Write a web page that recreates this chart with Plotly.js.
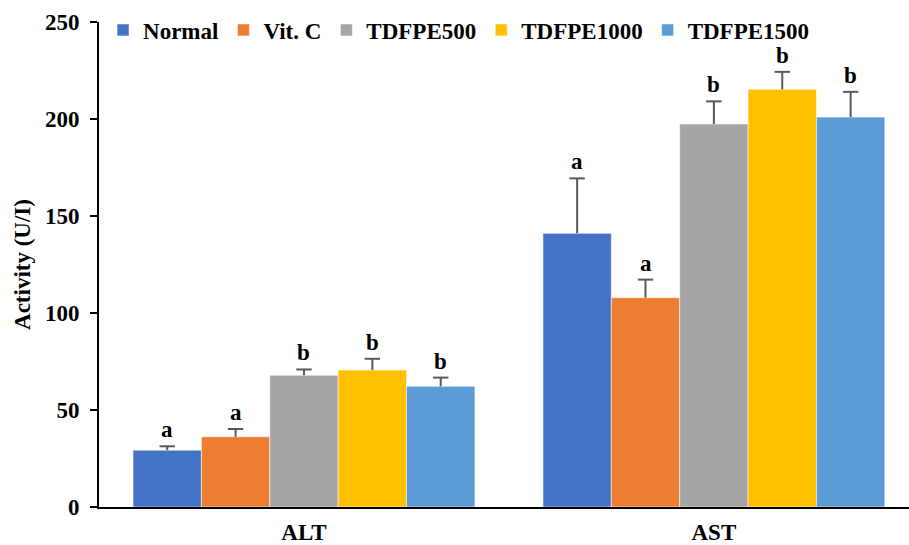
<!DOCTYPE html>
<html>
<head>
<meta charset="utf-8">
<script src="https://cdn.plot.ly/plotly-3.0.1.min.js"></script>
<style>html,body{margin:0;padding:0;background:#fff;}#chart{width:909px;height:545px;}</style>
</head>
<body>
<div id="chart"></div>
<script>
// Data
const categories = ["ALT", "AST"];
const seriesNames = ["Normal", "Vit. C", "TDFPE500", "TDFPE1000", "TDFPE1500"];
const normalVals = [29.3, 141.1];
const vitcVals = [36.2, 107.9];
const tdfpe500Vals = [67.9, 197.4];
const tdfpe1000Vals = [70.6, 215.3];
const tdfpe1500Vals = [62.2, 201.0];
const normalErr = [2.0, 28.3];
const vitcErr = [4.0, 9.3];
const tdfpe500Err = [3.0, 11.7];
const tdfpe1000Err = [5.8, 9.0];
const tdfpe1500Err = [4.5, 13.0];
const normalSig = ["a", "a"];
const vitcSig = ["a", "a"];
const tdfpe500Sig = ["b", "b"];
const tdfpe1000Sig = ["b", "b"];
const tdfpe1500Sig = ["b", "b"];
const yTickVals = [0, 50, 100, 150, 200, 250];

const colors = ["#4472C4", "#ED7D31", "#A5A5A5", "#FFC000", "#5B9BD5"];
const values = [normalVals, vitcVals, tdfpe500Vals, tdfpe1000Vals, tdfpe1500Vals];
const errs = [normalErr, vitcErr, tdfpe500Err, tdfpe1000Err, tdfpe1500Err];
const sigs = [normalSig, vitcSig, tdfpe500Sig, tdfpe1000Sig, tdfpe1500Sig];

const FONT = "Liberation Serif, Times New Roman, serif";
const FS = 23;
const ERRC = "#595959";
const bargap = 0.166;
const nSeries = seriesNames.length;
const barW = (1 - bargap) / nSeries;

const barTraces = seriesNames.map((name, i) => ({
  type: "bar",
  name: name,
  x: categories,
  y: values[i],
  offsetgroup: "g" + i,
  marker: { color: colors[i], line: { color: "rgba(255,255,255,0.55)", width: 1 } },
  error_y: {
    type: "data",
    symmetric: false,
    array: errs[i],
    arrayminus: errs[i].map(() => 0),
    color: ERRC,
    thickness: 2,
    width: 0
  }
}));

// caps on the upper end of each error bar only
const capTraces = seriesNames.map((name, i) => ({
  type: "scatter",
  mode: "markers",
  name: name + " cap",
  showlegend: false,
  x: categories,
  y: values[i].map((v, j) => v + errs[i][j]),
  offsetgroup: "g" + i,
  marker: { symbol: "line-ew", size: 11, line: { color: ERRC, width: 2 } }
}));

const annotations = [];
seriesNames.forEach((name, i) => {
  categories.forEach((c, j) => {
    annotations.push({
      xref: "x", yref: "y",
      x: j + (i - (nSeries - 1) / 2) * barW,
      y: values[i][j] + errs[i][j],
      text: sigs[i][j],
      showarrow: false,
      yanchor: "bottom",
      yshift: 2,
      font: { family: FONT, size: FS, color: "#000", weight: "bold" }
    });
  });
});

const layout = {
  width: 909, height: 545,
  margin: { l: 99, r: 0, t: 22, b: 38, pad: 0 },
  paper_bgcolor: "#fff", plot_bgcolor: "#fff",
  barmode: "group",
  bargap: bargap,
  bargroupgap: 0,
  scattermode: "group",
  scattergap: bargap,
  font: { family: FONT, size: FS, color: "#000", weight: "bold" },
  showlegend: true,
  legend: {
    orientation: "h",
    x: 0.005, xanchor: "left",
    y: 0.9835, yanchor: "middle",
    font: { family: FONT, size: FS, color: "#000", weight: "bold" },
    bgcolor: "rgba(0,0,0,0)",
    traceorder: "normal"
  },
  xaxis: {
    type: "category",
    range: [-0.5, 1.476],
    showline: true, linecolor: "#000", linewidth: 2,
    ticks: "", showgrid: false, zeroline: false,
    ticklabelstandoff: 3,
    tickfont: { family: FONT, size: FS, color: "#000", weight: "bold" }
  },
  yaxis: {
    range: [0, 250],
    tickvals: yTickVals,
    ticktext: yTickVals.map(String),
    showline: true, linecolor: "#000", linewidth: 2,
    ticks: "outside", ticklen: 7, tickwidth: 2, tickcolor: "#000",
    ticklabelstandoff: 6,
    showgrid: false, zeroline: false,
    tickfont: { family: FONT, size: FS, color: "#000", weight: "bold" },
    title: { text: "Activity (U/I)", standoff: 8, font: { family: FONT, size: FS, color: "#000", weight: "bold" } }
  },
  annotations: annotations
};

Plotly.newPlot("chart", barTraces.concat(capTraces), layout, { displayModeBar: false, staticPlot: true });
</script>
</body>
</html>
